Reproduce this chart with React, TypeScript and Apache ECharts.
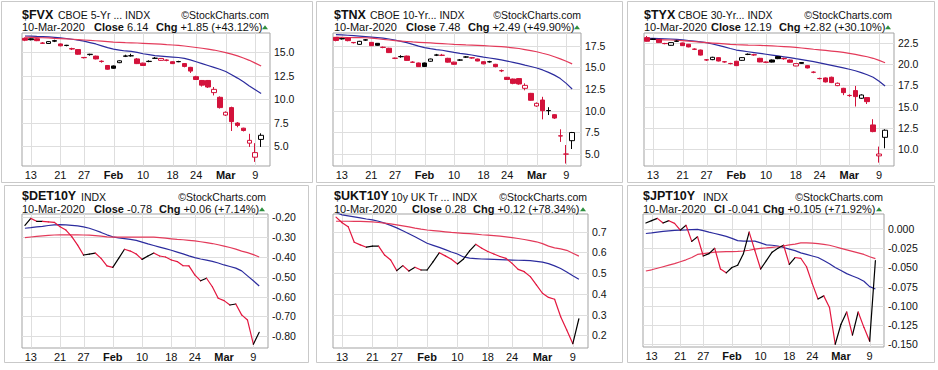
import React, { useEffect, useRef } from 'react';
import * as echarts from 'echarts';

// ---------- DATA ----------
const dates = ['Jan 10','Jan 13','Jan 14','Jan 15','Jan 16','Jan 17','Jan 21','Jan 22','Jan 23','Jan 24','Jan 27','Jan 28','Jan 29','Jan 30','Jan 31','Feb 3','Feb 4','Feb 5','Feb 6','Feb 7','Feb 10','Feb 11','Feb 12','Feb 13','Feb 14','Feb 18','Feb 19','Feb 20','Feb 21','Feb 24','Feb 25','Feb 26','Feb 27','Feb 28','Mar 2','Mar 3','Mar 4','Mar 5','Mar 6','Mar 9','Mar 10','Mar 11'];
const xTickIdx = [1, 6, 10, 15, 20, 25, 29, 34, 39];
const xTickText = ['13', '21', '27', 'Feb', '10', '18', '24', 'Mar', '9'];
const xTickBold = ['Feb', 'Mar'];

// $FVX
const fvxOpen = [16.50,16.45,16.45,16.00,15.95,16.25,15.90,15.76,15.40,15.30,14.46,14.76,14.60,14.06,13.60,13.55,13.90,14.58,14.64,14.30,13.85,14.02,14.36,14.15,14.18,14.00,14.00,13.80,13.40,12.40,12.00,12.00,10.70,10.20,8.30,9.10,7.45,6.90,5.30,3.80,5.70];
const fvxClose = [16.30,16.35,16.25,15.97,16.15,16.20,15.70,15.73,15.36,14.80,14.43,14.80,14.30,14.02,13.20,13.30,14.10,14.62,14.63,13.80,13.60,14.05,14.38,14.35,14.15,13.80,14.02,13.50,13.00,12.10,11.50,11.30,11.05,9.10,8.60,7.60,7.20,6.65,5.60,4.29,6.14];
const fvxLow = [16.20,16.28,16.20,15.90,15.90,16.10,15.65,15.65,15.25,14.75,14.35,14.65,14.25,13.90,13.15,13.25,13.85,14.50,14.55,13.75,13.55,13.95,14.30,14.10,14.05,13.75,13.95,13.40,12.80,12.05,11.35,11.20,10.40,9.00,8.20,6.60,7.00,6.55,4.90,3.30,4.90];
const fvxHigh = [16.60,16.50,16.50,16.10,16.20,16.35,15.95,15.80,15.50,15.35,14.50,14.85,14.65,14.15,13.65,13.60,14.15,14.75,14.85,14.40,13.90,14.15,14.50,14.40,14.25,14.05,14.10,13.85,13.45,12.50,12.05,12.05,11.30,10.30,8.70,9.20,7.55,6.95,6.30,5.30,6.35];
const fvxPrevClose = 16.45;
const fvxMaBlue = [16.75,16.73,16.70,16.68,16.65,16.60,16.55,16.48,16.40,16.30,16.20,16.05,15.90,15.70,15.50,15.35,15.25,15.15,15.10,15.00,14.85,14.75,14.65,14.60,14.55,14.50,14.45,14.35,14.20,14.00,13.80,13.60,13.40,13.20,12.95,12.60,12.25,11.85,11.40,11.00,10.60];
const fvxMaRed = [16.62,16.60,16.58,16.56,16.54,16.50,16.47,16.44,16.40,16.36,16.32,16.28,16.24,16.20,16.15,16.10,16.07,16.04,16.02,16.00,15.97,15.94,15.91,15.88,15.83,15.79,15.74,15.68,15.60,15.52,15.44,15.35,15.25,15.12,14.98,14.82,14.62,14.40,14.15,13.85,13.55];

// $TNX
const tnxOpen = [18.46,18.32,18.38,17.87,17.65,18.17,17.88,17.77,17.32,17.20,16.06,16.22,16.30,15.60,15.50,15.50,15.70,16.40,16.40,16.04,15.60,15.83,16.18,16.10,15.96,15.65,15.63,15.35,14.62,13.85,13.65,13.70,12.58,12.00,10.54,11.23,10.02,9.54,7.10,5.00,6.54];
const tnxClose = [18.10,18.28,18.08,17.84,18.00,18.14,17.50,17.54,17.30,16.70,16.04,16.25,15.80,15.58,15.08,15.10,15.96,16.43,16.38,15.60,15.35,15.85,16.20,16.08,15.73,15.40,15.65,15.08,14.60,13.60,13.15,13.08,12.92,11.20,10.85,10.00,10.00,9.15,7.08,4.99,7.48];
const tnxLow = [18.00,18.20,18.00,17.75,17.60,18.05,17.45,17.50,17.20,16.65,15.95,16.10,15.75,15.50,15.05,15.05,15.65,16.30,16.30,15.55,15.30,15.75,16.10,16.00,15.70,15.35,15.55,15.00,14.45,13.55,13.05,13.00,12.35,11.15,10.45,9.00,9.50,9.05,6.40,3.90,5.58];
const tnxHigh = [18.50,18.40,18.42,17.92,18.05,18.25,17.92,17.80,17.40,17.25,16.12,16.40,16.35,15.70,15.55,15.55,16.00,16.55,16.55,16.10,15.65,15.95,16.30,16.15,16.00,15.70,15.75,15.40,14.75,13.90,13.70,13.75,13.15,12.05,10.95,11.60,10.40,9.60,7.85,6.04,7.55];
const tnxPrevClose = 18.5;
const tnxMaBlue = [18.77,18.74,18.70,18.66,18.60,18.54,18.48,18.42,18.36,18.27,18.15,18.00,17.85,17.65,17.45,17.27,17.15,17.05,16.97,16.85,16.73,16.62,16.52,16.42,16.30,16.18,16.08,15.98,15.85,15.72,15.58,15.42,15.25,15.10,14.92,14.70,14.42,14.10,13.70,13.15,12.50];
const tnxMaRed = [18.46,18.45,18.44,18.43,18.42,18.41,18.36,18.30,18.22,18.15,18.08,18.03,17.98,17.93,17.89,17.85,17.81,17.77,17.73,17.69,17.65,17.62,17.59,17.57,17.54,17.50,17.46,17.42,17.38,17.32,17.25,17.17,17.05,16.93,16.80,16.62,16.45,16.22,15.98,15.70,15.40];

// $TYX
const tyxOpen = [23.17,23.00,22.97,22.48,22.26,22.76,22.54,22.38,21.81,21.70,20.54,20.56,20.80,20.31,20.11,20.37,20.48,21.18,21.14,20.72,20.27,20.52,20.92,20.70,20.52,19.81,20.22,19.85,19.08,18.33,18.39,18.47,17.48,17.16,16.32,16.89,15.98,16.06,12.82,9.15,11.35];
const tyxClose = [22.74,22.97,22.58,22.46,22.58,22.74,22.22,22.07,21.79,21.10,20.52,20.84,20.40,20.29,20.09,19.85,20.80,21.20,21.12,20.29,20.25,20.27,20.68,20.66,20.25,20.09,20.12,19.58,19.06,18.31,17.92,17.84,17.76,16.65,16.30,16.18,16.37,15.58,12.03,9.37,12.19];
const tyxLow = [22.70,22.90,22.55,22.38,22.22,22.65,22.18,22.02,21.70,21.05,20.42,20.50,20.35,20.20,20.00,19.80,20.42,21.10,21.02,20.25,20.15,20.22,20.62,20.55,20.20,19.78,20.05,19.52,18.95,18.22,17.85,17.78,17.42,16.35,16.15,15.00,15.90,15.30,11.95,8.35,10.05];
const tyxHigh = [23.37,23.05,23.00,22.55,22.62,22.85,22.58,22.42,21.90,21.75,20.62,20.90,20.85,20.40,20.18,20.42,20.85,21.30,21.25,20.78,20.35,20.58,20.98,20.80,20.58,20.12,20.28,19.90,19.18,18.42,18.45,18.55,17.85,17.22,16.45,17.44,16.45,16.10,13.50,10.25,12.30];
const tyxPrevClose = 23.2;
const tyxMaBlue = [23.09,23.08,23.06,23.04,23.01,22.97,22.90,22.83,22.75,22.67,22.58,22.42,22.25,22.07,21.88,21.70,21.60,21.50,21.40,21.30,21.20,21.10,21.00,20.90,20.80,20.68,20.57,20.45,20.33,20.18,20.03,19.88,19.73,19.58,19.42,19.24,19.02,18.77,18.47,18.00,17.44];
const tyxMaRed = [22.97,22.95,22.93,22.91,22.89,22.86,22.81,22.75,22.69,22.63,22.58,22.53,22.48,22.43,22.38,22.34,22.32,22.29,22.27,22.25,22.22,22.19,22.15,22.11,22.07,22.01,21.94,21.87,21.79,21.72,21.65,21.58,21.51,21.42,21.30,21.18,21.04,20.90,20.72,20.47,20.20];

// $DET10Y
const detClose = [-0.240,-0.205,-0.220,-0.220,-0.223,-0.225,-0.247,-0.264,-0.297,-0.340,-0.390,-0.385,-0.380,-0.407,-0.445,-0.452,-0.407,-0.361,-0.370,-0.385,-0.412,-0.395,-0.380,-0.395,-0.400,-0.415,-0.423,-0.444,-0.445,-0.490,-0.520,-0.507,-0.550,-0.608,-0.620,-0.642,-0.637,-0.692,-0.718,-0.840,-0.780];
const detMaBlue = [-0.255,-0.252,-0.248,-0.245,-0.241,-0.238,-0.237,-0.238,-0.240,-0.243,-0.248,-0.255,-0.265,-0.276,-0.288,-0.298,-0.303,-0.307,-0.311,-0.316,-0.325,-0.334,-0.342,-0.350,-0.358,-0.366,-0.375,-0.384,-0.394,-0.403,-0.410,-0.416,-0.422,-0.430,-0.440,-0.448,-0.456,-0.470,-0.495,-0.520,-0.546];
const detMaRed = [-0.302,-0.299,-0.296,-0.293,-0.291,-0.289,-0.288,-0.288,-0.288,-0.288,-0.289,-0.290,-0.292,-0.295,-0.298,-0.300,-0.300,-0.300,-0.300,-0.300,-0.300,-0.300,-0.300,-0.302,-0.305,-0.308,-0.311,-0.313,-0.316,-0.319,-0.323,-0.327,-0.332,-0.338,-0.345,-0.352,-0.360,-0.370,-0.378,-0.388,-0.400];

// $UKT10Y
const uktClose = [0.770,0.743,0.724,0.649,0.636,0.625,0.630,0.630,0.587,0.563,0.512,0.536,0.510,0.528,0.515,0.515,0.555,0.598,0.583,0.567,0.544,0.568,0.607,0.639,0.620,0.604,0.592,0.580,0.571,0.547,0.518,0.507,0.483,0.443,0.403,0.383,0.374,0.290,0.226,0.160,0.280];
const uktMaBlue = [0.792,0.781,0.776,0.771,0.766,0.761,0.757,0.750,0.741,0.730,0.718,0.704,0.690,0.675,0.660,0.644,0.634,0.624,0.613,0.602,0.592,0.578,0.572,0.570,0.568,0.567,0.566,0.565,0.564,0.563,0.562,0.561,0.560,0.557,0.553,0.546,0.535,0.522,0.505,0.487,0.470];
const uktMaRed = [0.750,0.750,0.750,0.749,0.749,0.748,0.747,0.744,0.741,0.737,0.733,0.728,0.723,0.717,0.712,0.708,0.705,0.702,0.699,0.696,0.694,0.692,0.690,0.688,0.685,0.683,0.681,0.678,0.675,0.671,0.667,0.662,0.657,0.651,0.642,0.630,0.622,0.617,0.610,0.596,0.582];

// $JPT10Y
const jptClose = [0.008,0.011,0.014,0.008,0.011,0.0075,-0.0013,0.005,-0.016,-0.010,-0.035,-0.032,-0.025,-0.052,-0.057,-0.050,-0.047,-0.032,-0.004,-0.028,-0.052,-0.041,-0.030,-0.025,-0.021,-0.046,-0.037,-0.038,-0.049,-0.071,-0.091,-0.087,-0.102,-0.150,-0.124,-0.108,-0.138,-0.108,-0.128,-0.146,-0.041];
const jptMaBlue = [-0.0057,-0.0050,-0.0038,-0.0030,-0.0022,-0.0016,-0.0013,-0.0010,-0.0006,-0.0004,-0.0020,-0.0040,-0.0057,-0.0075,-0.0095,-0.0120,-0.0150,-0.0157,-0.0157,-0.0157,-0.0180,-0.0205,-0.0210,-0.0220,-0.0240,-0.0260,-0.0280,-0.0310,-0.0330,-0.0350,-0.0370,-0.0410,-0.0450,-0.0500,-0.0540,-0.0580,-0.0610,-0.0640,-0.0680,-0.0750,-0.0780];
const jptMaRed = [-0.0546,-0.0530,-0.0510,-0.0490,-0.0470,-0.0450,-0.0425,-0.0400,-0.0370,-0.0330,-0.0320,-0.0310,-0.0300,-0.0297,-0.0294,-0.0292,-0.0290,-0.0285,-0.0275,-0.0260,-0.0250,-0.0245,-0.0237,-0.0230,-0.0220,-0.0205,-0.0195,-0.0180,-0.0180,-0.0183,-0.0190,-0.0200,-0.0210,-0.0230,-0.0250,-0.0270,-0.0290,-0.0310,-0.0330,-0.0360,-0.0385];

// y-axis tick labels
const fvxTicks = [5, 7.5, 10, 12.5, 15];
const tnxTicks = [5, 7.5, 10, 12.5, 15, 17.5];
const tyxTicks = [10, 12.5, 15, 17.5, 20, 22.5];
const detTicks = [-0.8, -0.7, -0.6, -0.5, -0.4, -0.3, -0.2];
const uktTicks = [0.2, 0.3, 0.4, 0.5, 0.6, 0.7];
const jptTicks = [-0.15, -0.125, -0.1, -0.075, -0.05, -0.025, 0];

// header texts
const headers = [
  { sym: '$FVX', name: 'CBOE 5-Yr ... INDX', date: '10-Mar-2020', closeLbl: 'Close', close: '6.14', chg: '+1.85 (+43.12%)' },
  { sym: '$TNX', name: 'CBOE 10-Yr... INDX', date: '10-Mar-2020', closeLbl: 'Close', close: '7.48', chg: '+2.49 (+49.90%)' },
  { sym: '$TYX', name: 'CBOE 30-Yr... INDX', date: '10-Mar-2020', closeLbl: 'Close', close: '12.19', chg: '+2.82 (+30.10%)' },
  { sym: '$DET10Y', name: 'INDX', date: '10-Mar-2020', closeLbl: 'Close', close: '-0.78', chg: '+0.06 (+7.14%)' },
  { sym: '$UKT10Y', name: '10y UK Tr ... INDX', date: '10-Mar-2020', closeLbl: 'Close', close: '0.28', chg: '+0.12 (+78.34%)' },
  { sym: '$JPT10Y', name: 'INDX', date: '10-Mar-2020', closeLbl: 'Cl', close: '-0.041', chg: '+0.105 (+71.92%)' },
];

// ---------- STYLE / LAYOUT ----------
const FONT = '"Liberation Sans", Arial, Helvetica, sans-serif';
const RED_CANDLE = '#d3123b';
const RED_LINE = '#e3173f';
const RED_MA = '#e33a5a';
const BLUE_MA = '#2c2c9e';
const GRID_LINE = '#dedede';
const PLOT_BORDER = '#a3a3a3';
const PANEL_BORDER = '#c9c9c9';
const TEXT = '#111111';

const layout = [
  { box: [1, 1, 311, 181], plot: [22, 33, 248, 133], yMin: 2.86, yMax: 17.07, dec: 1, l1: 14.5, l2: 27.3, sx: 22, nx: 58, cr: 269, cx: 94, gx: 156, tx: 265 },
  { box: [316, 1, 306, 181], plot: [333, 33, 248, 133], yMin: 3.62, yMax: 18.96, dec: 1, l1: 14.5, l2: 27.3, sx: 334, nx: 370, cr: 581, cx: 406, gx: 468, tx: 577 },
  { box: [627, 1, 307, 181], plot: [644, 33, 250, 133], yMin: 7.95, yMax: 23.72, dec: 1, l1: 14.5, l2: 27.3, sx: 644, nx: 678, cr: 892, cx: 711, gx: 779, tx: 888 },
  { box: [4, 185, 304, 177], plot: [22, 214, 246, 134], yMin: -0.859, yMax: -0.183, dec: 2, l1: 196, l2: 209.3, sx: 22, nx: 81, cr: 266, cx: 94, gx: 159, tx: 262 },
  { box: [316, 185, 306, 177], plot: [333, 214, 255, 134], yMin: 0.139, yMax: 0.785, dec: 1, l1: 196, l2: 209.3, sx: 334, nx: 391, cr: 587, cx: 412, gx: 473, tx: 583 },
  { box: [627, 185, 307, 177], plot: [643, 214, 241, 133], yMin: -0.1536, yMax: 0.0197, dec: 3, l1: 196, l2: 209.3, sx: 643, nx: 703, cr: 883, cx: 714, gx: 763, tx: 879 },
];

function candleData(o: number[], c: number[], l: number[], h: number[], prev: number) {
  return o.map((_, i) => {
    const pc = i === 0 ? prev : c[i - 1];
    const col = c[i] >= pc ? '#000000' : RED_CANDLE;
    const fill = c[i] > o[i] ? '#ffffff' : col;
    return {
      value: [o[i], c[i], l[i], h[i]],
      itemStyle: { color: fill, color0: fill, borderColor: col, borderColor0: col, borderColorDoji: col, borderWidth: 1 },
    };
  });
}

function gridLineSeries(k: number, ticks: number[]) {
  return {
    type: 'custom', xAxisIndex: k, yAxisIndex: k, silent: true, z: 1,
    data: [[0, ticks[0]]],
    renderItem: (params: any, api: any) => {
      const cs = params.coordSys;
      const children: any[] = [];
      for (const i of xTickIdx) {
        const x = Math.round(api.coord([i, ticks[0]])[0]) + 0.5;
        children.push({ type: 'line', shape: { x1: x, y1: cs.y, x2: x, y2: cs.y + cs.height }, style: { stroke: GRID_LINE, lineWidth: 1 } });
      }
      for (const v of ticks) {
        const y = Math.round(api.coord([0, v])[1]) + 0.5;
        children.push({ type: 'line', shape: { x1: cs.x, y1: y, x2: cs.x + cs.width, y2: y }, style: { stroke: GRID_LINE, lineWidth: 1 } });
      }
      return { type: 'group', children };
    },
  };
}

function segmentSeries(k: number, vals: number[]) {
  const data: number[][] = [];
  for (let i = 1; i < vals.length; i++) data.push([i, vals[i - 1], vals[i]]);
  return {
    type: 'custom', xAxisIndex: k, yAxisIndex: k, silent: true, z: 5,
    data,
    encode: { x: 0, y: [1, 2] },
    renderItem: (params: any, api: any) => {
      const i = api.value(0);
      const a = api.value(1);
      const b = api.value(2);
      const p1 = api.coord([i - 1, a]);
      const p2 = api.coord([i, b]);
      return {
        type: 'line',
        shape: { x1: p1[0], y1: p1[1], x2: p2[0], y2: p2[1] },
        style: { stroke: b >= a ? '#000000' : RED_LINE, lineWidth: 1.2, lineCap: 'round' },
      };
    },
  };
}

function maSeries(k: number, vals: number[], color: string) {
  return {
    type: 'line', xAxisIndex: k, yAxisIndex: k, data: vals, showSymbol: false, symbol: 'none',
    silent: true, z: 3, lineStyle: { color, width: 1.2 },
  };
}

function buildOption() {
  const grid: any[] = [];
  const xAxis: any[] = [];
  const yAxis: any[] = [];
  const series: any[] = [];
  const graphic: any[] = [];
  const tickSets = [fvxTicks, tnxTicks, tyxTicks, detTicks, uktTicks, jptTicks];

  layout.forEach((p, k) => {
    grid.push({
      left: p.plot[0], top: p.plot[1], width: p.plot[2], height: p.plot[3],
      show: true, borderColor: PLOT_BORDER, borderWidth: 1, backgroundColor: '#ffffff',
      containLabel: false, outerBoundsMode: 'none',
    });
    xAxis.push({
      type: 'category', gridIndex: k, data: dates, boundaryGap: true,
      axisLine: { show: false }, axisTick: { show: false }, splitLine: { show: false },
      axisLabel: {
        interval: (i: number) => xTickIdx.indexOf(i) >= 0,
        formatter: (_v: string, i: number) => {
          const t = xTickText[xTickIdx.indexOf(i)] || '';
          return xTickBold.indexOf(t) >= 0 ? '{b|' + t + '}' : t;
        },
        fontSize: 11, fontFamily: FONT, color: TEXT, margin: 3,
        rich: { b: { fontSize: 11, fontFamily: FONT, fontWeight: 'bold', color: TEXT } },
      },
    });
    const ticks = tickSets[k];
    yAxis.push({
      type: 'value', gridIndex: k, position: 'right', min: p.yMin, max: p.yMax, scale: true,
      axisLine: { show: false }, axisTick: { show: false, customValues: ticks }, splitLine: { show: false },
      axisLabel: {
        customValues: ticks, showMinLabel: true, showMaxLabel: true,
        formatter: (v: number) => v.toFixed(p.dec),
        fontSize: 10.5, fontFamily: FONT, color: TEXT, margin: 4,
      },
    });
    series.push(gridLineSeries(k, ticks));

    // panel frame
    graphic.push({
      type: 'rect', silent: true, z: 0,
      shape: { x: p.box[0] + 0.5, y: p.box[1] + 0.5, width: p.box[2], height: p.box[3] },
      style: { fill: 'none', stroke: PANEL_BORDER, lineWidth: 1 },
    });
    const h = headers[k];
    const t = (x: number, y: number, text: string, size: number, extra: any = {}) => ({
      type: 'text', x, y, silent: true, z: 10,
      style: {
        text, fontSize: size, fontFamily: FONT, fontWeight: extra.bold ? 'bold' : 'normal', fill: TEXT,
        align: extra.align || 'left', verticalAlign: 'middle',
        rich: {
          b: { fontSize: size, fontFamily: FONT, fontWeight: 'bold', fill: TEXT, color: TEXT },
          n: { fontSize: size, fontFamily: FONT, fill: TEXT, color: TEXT },
        },
      },
    });
    graphic.push(t(p.sx, p.l1, h.sym, 12.5, { bold: true }));
    graphic.push(t(p.nx, p.l1 + 0.5, h.name, 10.5));
    graphic.push(t(p.cr, p.l1 + 0.5, '\u00A9StockCharts.com', 10.5, { align: 'right' }));
    graphic.push(t(p.sx, p.l2, h.date, 11));
    graphic.push(t(p.cx, p.l2, '{b|' + h.closeLbl + '}{n| ' + h.close + '}', 11));
    graphic.push(t(p.gx, p.l2, '{b|Chg}{n| ' + h.chg + '}', 11));
    graphic.push({
      type: 'polygon', silent: true, z: 10,
      shape: { points: [[p.tx - 3, p.l2 + 2], [p.tx + 3, p.l2 + 2], [p.tx, p.l2 - 2]] },
      style: { fill: '#2f8f3f' },
    });
  });

  const candles = [
    candleData(fvxOpen, fvxClose, fvxLow, fvxHigh, fvxPrevClose),
    candleData(tnxOpen, tnxClose, tnxLow, tnxHigh, tnxPrevClose),
    candleData(tyxOpen, tyxClose, tyxLow, tyxHigh, tyxPrevClose),
  ];
  const mas = [
    [fvxMaBlue, fvxMaRed], [tnxMaBlue, tnxMaRed], [tyxMaBlue, tyxMaRed],
    [detMaBlue, detMaRed], [uktMaBlue, uktMaRed], [jptMaBlue, jptMaRed],
  ];
  candles.forEach((d, k) => {
    series.push({
      type: 'candlestick', xAxisIndex: k, yAxisIndex: k, data: d, barWidth: 5, z: 4, silent: true,
      itemStyle: { borderWidth: 1 },
    });
  });
  mas.forEach((m, k) => {
    series.push(maSeries(k, m[0], BLUE_MA));
    series.push(maSeries(k, m[1], RED_MA));
  });
  [detClose, uktClose, jptClose].forEach((v, j) => series.push(segmentSeries(3 + j, v)));

  return {
    animation: false,
    backgroundColor: '#ffffff',
    textStyle: { fontFamily: FONT },
    grid, xAxis, yAxis, series, graphic,
  };
}

export default function App() {
  const ref = useRef<HTMLDivElement>(null);
  useEffect(() => {
    if (!ref.current) return;
    const chart = echarts.init(ref.current, undefined, { renderer: 'svg' });
    chart.setOption(buildOption() as any);
    return () => chart.dispose();
  }, []);
  return <div ref={ref} style={{ position: 'fixed', left: 0, top: 0, width: 938, height: 370, background: '#fff' }} />;
}
